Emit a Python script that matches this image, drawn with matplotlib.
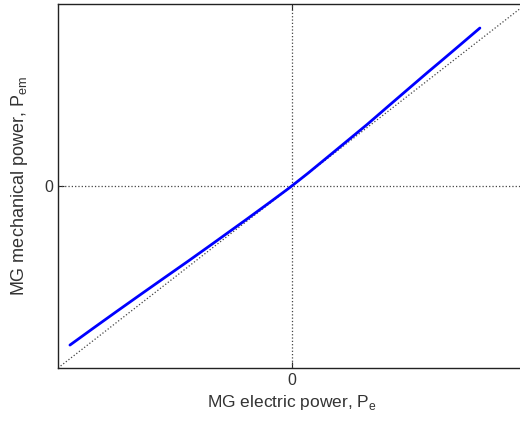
import matplotlib
matplotlib.use('Agg')
import matplotlib.pyplot as plt

# MG electric power vs mechanical power (normalized units)
p_e = [-0.949, -0.850, -0.748, -0.637, -0.534, -0.444, -0.338, -0.192, -0.094,
       -0.009, 0.068, 0.175, 0.321, 0.419, 0.504, 0.581, 0.632, 0.720, 0.803]
p_em = [-0.874, -0.782, -0.688, -0.587, -0.494, -0.413, -0.316, -0.181, -0.089,
        -0.008, 0.070, 0.183, 0.338, 0.447, 0.541, 0.626, 0.681, 0.777, 0.868]
diag = [-1.0, 1.0]

plt.rcParams['font.family'] = ['Liberation Sans', 'DejaVu Sans']

fig = plt.figure(figsize=(5.2, 4.21), dpi=100)
ax = fig.add_axes([58 / 520, 53 / 421, 468 / 520, 364 / 421])

ax.plot(diag, diag, linestyle=':', color='#444444', linewidth=0.9)
ax.axhline(0, linestyle=':', color='#444444', linewidth=0.9)
ax.axvline(0, linestyle=':', color='#444444', linewidth=0.9)
ax.plot(p_e, p_em, color='#0000ff', linewidth=2.0, solid_capstyle='round',
        solid_joinstyle='round')

ax.set_xlim(-1, 1)
ax.set_ylim(-1, 1)
ax.set_xticks([0])
ax.set_yticks([0])
ax.tick_params(direction='in', top=True, right=True, labelsize=11.5, length=4,
               color='#222222', labelcolor='#333333')

for s in ax.spines.values():
    s.set_linewidth(1.0)
    s.set_color('#222222')

ax.set_xlabel('MG electric power, P$_\\mathregular{e}$', fontsize=12.5, color='#333333',
              labelpad=4)
ax.set_ylabel('MG mechanical power, P$_\\mathregular{em}$', fontsize=13, color='#333333',
              labelpad=10)

fig.savefig('out.png', dpi=100)
